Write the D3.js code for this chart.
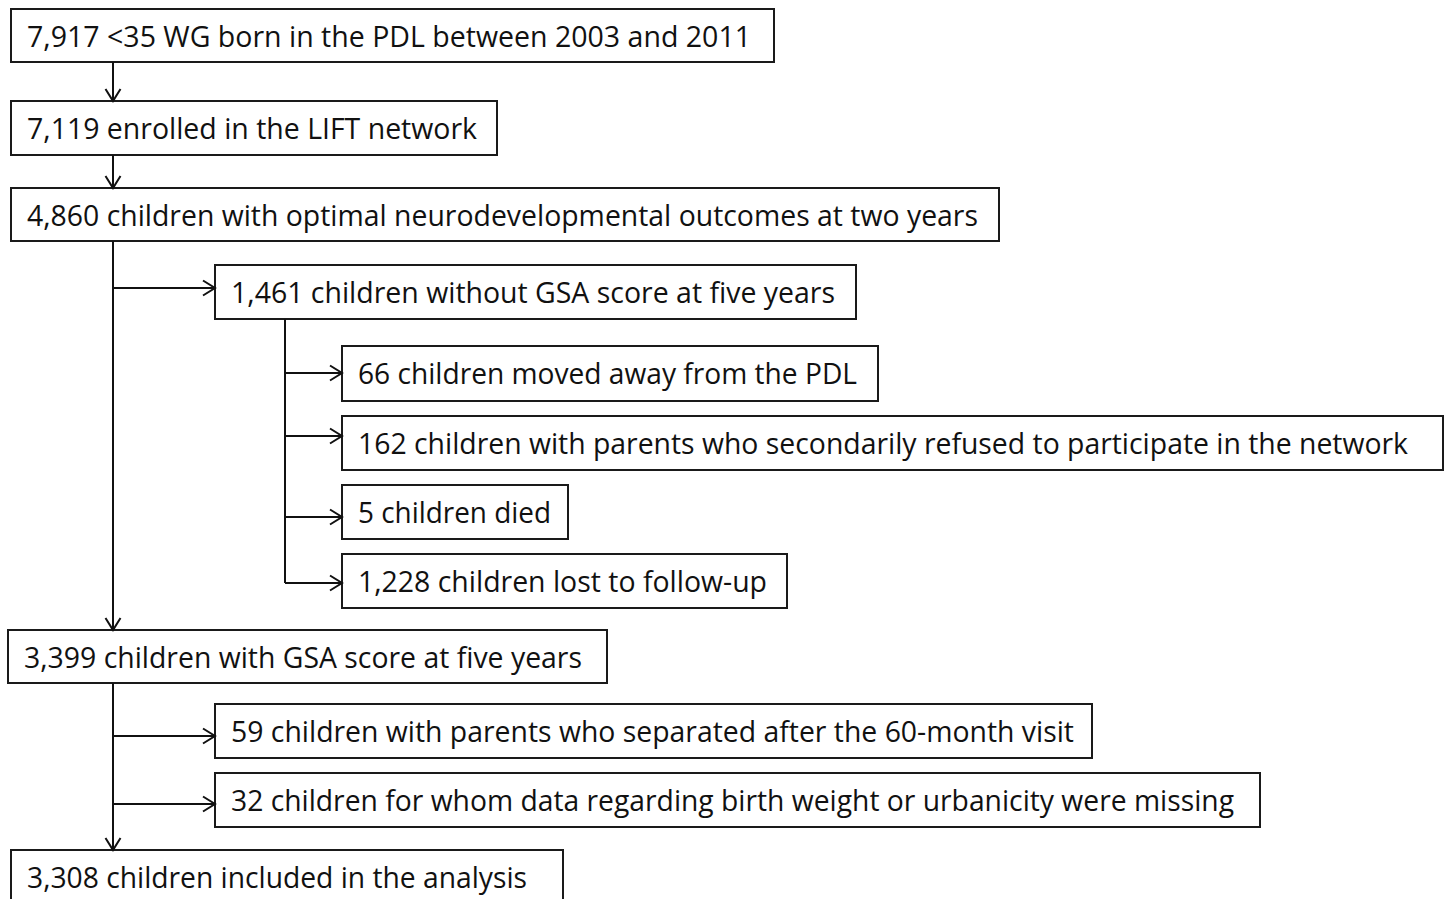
<!DOCTYPE html>
<html>
<head>
<meta charset="utf-8">
<script src="https://cdn.jsdelivr.net/npm/d3@7"></script>
<style>
  html, body { margin: 0; padding: 0; background: #fff; }
  svg { display: block; }
  .box rect { fill: #fff; stroke: #1a1a1a; stroke-width: 2; }
  .box text { font-family: "Open Sans", "Noto Sans", sans-serif; font-size: 29px; fill: #111; }
  .link { fill: none; stroke: #111; stroke-width: 2; }
</style>
</head>
<body>
<svg id="chart" width="1448" height="899"></svg>
<script>
// flow steps (text of each box)
const labels = [
  "7,917 <35 WG born in the PDL between 2003 and 2011",
  "7,119 enrolled in the LIFT network",
  "4,860 children with optimal neurodevelopmental outcomes at two years",
  "1,461 children without GSA score at five years",
  "66 children moved away from the PDL",
  "162 children with parents who secondarily refused to participate in the network",
  "5 children died",
  "1,228 children lost to follow-up",
  "3,399 children with GSA score at five years",
  "59 children with parents who separated after the 60-month visit",
  "32 children for whom data regarding birth weight or urbanicity were missing",
  "3,308 children included in the analysis"
];

// layout (px) : left, top, right, bottom of each box, and where its text ends
const boxLeft   = [11, 11, 11, 215, 342, 342, 342, 342, 8, 215, 215, 11];
const boxTop    = [9, 101, 188, 265, 346, 416, 485, 554, 630, 704, 773, 850];
const boxRight  = [774, 497, 999, 856, 878, 1443, 568, 787, 607, 1092, 1260, 563];
const boxBottom = [62, 155, 241, 319, 401, 470, 539, 608, 683, 758, 827, 910];
const textEnd   = [751, 477, 978, 835, 857, 1408, 551, 767, 582, 1074, 1234, 527];

// connectors: plain segments and arrows [x1, y1, x2, y2]
const trunk = 113, sub = 285;
const lines = [
  [sub, 319, sub, 583]
];
const arrows = [
  [trunk, 62, trunk, 101],
  [trunk, 155, trunk, 188],
  [trunk, 241, trunk, 630],
  [trunk, 288, 215, 288],
  [sub, 373, 342, 373],
  [sub, 436, 342, 436],
  [sub, 517, 342, 517],
  [sub, 583, 342, 583],
  [trunk, 683, trunk, 850],
  [trunk, 736, 215, 736],
  [trunk, 804, 215, 804]
];

const svg = d3.select("#chart");

const box = svg.selectAll("g.box")
  .data(labels)
  .join("g")
  .attr("class", "box");

box.append("rect")
  .attr("x", (d, i) => boxLeft[i])
  .attr("y", (d, i) => boxTop[i])
  .attr("width", (d, i) => boxRight[i] - boxLeft[i])
  .attr("height", (d, i) => boxBottom[i] - boxTop[i]);

box.append("text")
  .attr("x", (d, i) => boxLeft[i] + 16)
  .attr("y", (d, i) => boxTop[i] + 38)
  .attr("textLength", (d, i) => textEnd[i] - boxLeft[i] - 16)
  .attr("lengthAdjust", "spacingAndGlyphs")
  .text(d => d);

const line = d3.line();

svg.selectAll("path.seg")
  .data(lines)
  .join("path")
  .attr("class", "link seg")
  .attr("d", d => line([[d[0], d[1]], [d[2], d[3]]]));

// open chevron head drawn at the tip
function arrowPath(d) {
  const [x1, y1, x2, y2] = d;
  const a = Math.atan2(y2 - y1, x2 - x1);
  const len = 12, half = 7.5;
  const bx = x2 - len * Math.cos(a), by = y2 - len * Math.sin(a);
  const px = -Math.sin(a) * half, py = Math.cos(a) * half;
  return line([[x1, y1], [x2, y2]]) +
    line([[bx + px, by + py], [x2, y2], [bx - px, by - py]]);
}

svg.selectAll("path.arrow")
  .data(arrows)
  .join("path")
  .attr("class", "link arrow")
  .attr("d", arrowPath);
</script>
</body>
</html>
